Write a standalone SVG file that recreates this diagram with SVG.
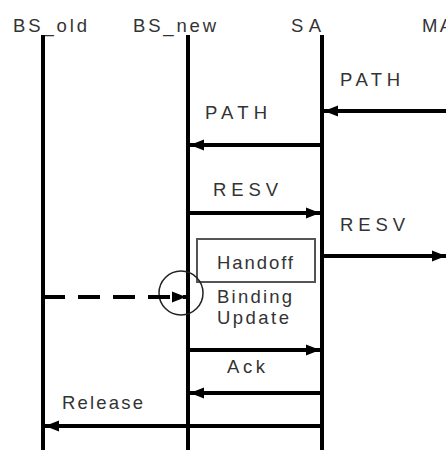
<svg xmlns="http://www.w3.org/2000/svg" width="446" height="450" viewBox="0 0 446 450">
<defs>
<marker id="ah" markerUnits="userSpaceOnUse" markerWidth="16" markerHeight="14" refX="14" refY="7" orient="auto">
<path d="M0,1.5 L14,7 L0,12.5 Z" fill="#000"/>
</marker>
<style>
.t{font-family:"Liberation Sans",Arial,sans-serif;font-size:18.5px;fill:#333}
.life{stroke:#000;stroke-width:4;fill:none}
.msg{stroke:#000;stroke-width:4;fill:none;marker-end:url(#ah)}
</style>
</defs>
<rect width="446" height="450" fill="#fff"/>
<g id="BS_old"><text class="t" x="13" y="32" textLength="74" lengthAdjust="spacing">BS_old</text><line class="life" x1="43" y1="35" x2="43" y2="450"/></g>
<g id="BS_new"><text class="t" x="133" y="32" textLength="83" lengthAdjust="spacing">BS_new</text><line class="life" x1="188" y1="35" x2="188" y2="450"/></g>
<g id="SA"><text class="t" x="291" y="32" textLength="30" lengthAdjust="spacing">SA</text><line class="life" x1="322" y1="35" x2="322" y2="450"/></g>
<g id="MA"><text class="t" x="422" y="32" textLength="30" lengthAdjust="spacing">MA</text></g>
<g id="handoff"><rect x="197" y="239" width="118" height="43" fill="none" stroke="#555" stroke-width="2"/><text class="t" x="217" y="269" textLength="76" lengthAdjust="spacing">Handoff</text></g>
<g id="circle"><circle cx="181" cy="293" r="22" fill="none" stroke="#222" stroke-width="1.5"/></g>
<g id="connectors">
<line class="msg" x1="446" y1="111" x2="324" y2="111"/>
<line class="msg" x1="322" y1="145" x2="190" y2="145"/>
<line class="msg" x1="188" y1="213" x2="320" y2="213"/>
<line class="msg" x1="322" y1="256" x2="446" y2="256"/>
<line class="msg" x1="43" y1="297" x2="186" y2="297" stroke-dasharray="22 13"/>
<line class="msg" x1="188" y1="350" x2="320" y2="350"/>
<line class="msg" x1="322" y1="393" x2="190" y2="393"/>
<line class="msg" x1="322" y1="426" x2="45" y2="426"/>
</g>
<g id="labels">
<text class="t" x="340" y="86" textLength="60" lengthAdjust="spacing">PATH</text>
<text class="t" x="205" y="119" textLength="62" lengthAdjust="spacing">PATH</text>
<text class="t" x="213" y="196" textLength="65" lengthAdjust="spacing">RESV</text>
<text class="t" x="340" y="231" textLength="65" lengthAdjust="spacing">RESV</text>
<text class="t" x="217" y="303" textLength="75" lengthAdjust="spacing">Binding</text>
<text class="t" x="217" y="324" textLength="72" lengthAdjust="spacing">Update</text>
<text class="t" x="227" y="373" textLength="38" lengthAdjust="spacing">Ack</text>
<text class="t" x="62" y="409" textLength="81" lengthAdjust="spacing">Release</text>
</g>
</svg>
